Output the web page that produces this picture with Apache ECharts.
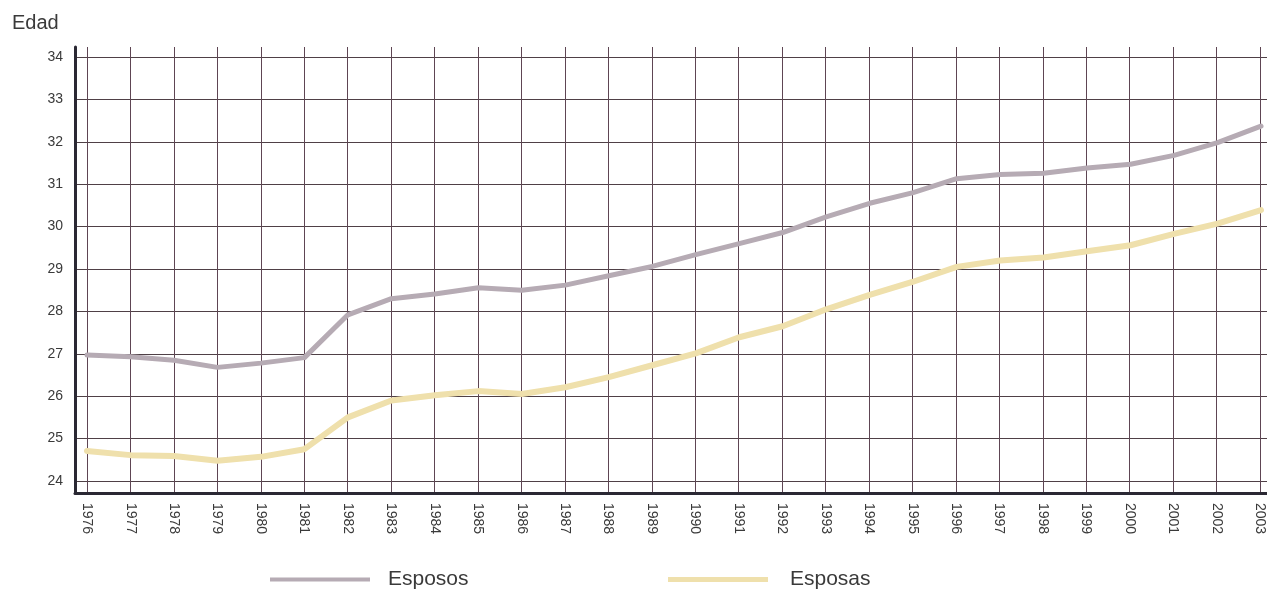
<!DOCTYPE html>
<html>
<head>
<meta charset="utf-8">
<script src="https://cdn.jsdelivr.net/npm/echarts@6/dist/echarts.min.js"></script>
<style>
html,body{margin:0;padding:0;background:#ffffff;}
#chart{width:1267px;height:592px;}
</style>
</head>
<body>
<div id="chart"></div>
<script>
const years = ['1976','1977','1978','1979','1980','1981','1982','1983','1984','1985','1986','1987','1988','1989','1990','1991','1992','1993','1994','1995','1996','1997','1998','1999','2000','2001','2002','2003'];
const esposos = [26.97, 26.93, 26.85, 26.68, 26.78, 26.91, 27.92, 28.3, 28.41, 28.56, 28.5, 28.62, 28.84, 29.06, 29.34, 29.6, 29.86, 30.23, 30.55, 30.8, 31.13, 31.23, 31.26, 31.38, 31.47, 31.68, 31.98, 32.37];
const esposas = [24.71, 24.61, 24.59, 24.48, 24.57, 24.75, 25.5, 25.9, 26.02, 26.12, 26.05, 26.21, 26.45, 26.73, 27.01, 27.39, 27.65, 28.05, 28.39, 28.7, 29.05, 29.2, 29.27, 29.42, 29.56, 29.83, 30.07, 30.39];
const yMin = 24, yMax = 34, yStep = 1;

const font = '"Liberation Sans", Arial, sans-serif';
const txt = '#3a3a3a';
const chart = echarts.init(document.getElementById('chart'));
chart.setOption({
  animation: false,
  backgroundColor: '#ffffff',
  title: { text: 'Edad', left: 7, top: 8, textStyle: { fontFamily: font, fontSize: 20, fontWeight: 'normal', color: txt } },
  legend: [
    { left: 265, top: 564, data: ['Esposos'], icon: 'rect', itemWidth: 100, itemHeight: 4,
      textStyle: { fontFamily: font, fontSize: 21, color: txt, padding: [0,0,0,13] } },
    { left: 663, top: 564, data: ['Esposas'], icon: 'rect', itemWidth: 100, itemHeight: 5,
      textStyle: { fontFamily: font, fontSize: 21, color: txt, padding: [0,0,0,17] } }
  ],
  grid: [
    { left: 75, right: 0, top: 47, bottom: 99 },
    { left: 87, right: 6, top: 47, bottom: 99 },
    { left: 75, right: 0, top: 57, bottom: 111 },
    { left: 87, right: 6, top: 57, bottom: 111 }
  ],
  xAxis: [
    { gridIndex: 0, type: 'value', min: 0, max: 1, axisLine: { show: true, lineStyle: { color: '#2a2833', width: 3 } },
      axisTick: { show: false }, axisLabel: { show: false }, splitLine: { show: false } },
    { gridIndex: 1, type: 'category', data: years, boundaryGap: false,
      axisLine: { show: false }, axisTick: { show: false },
      axisLabel: { interval: 0, rotate: -90, margin: 10, fontFamily: font, fontSize: 14, color: txt },
      splitLine: { show: true, interval: 0, lineStyle: { color: '#5e4553', width: 1 } } },
    { gridIndex: 2, type: 'value', min: 0, max: 1, show: false },
    { gridIndex: 3, type: 'category', data: years, boundaryGap: false, show: false }
  ],
  yAxis: [
    { gridIndex: 0, type: 'value', min: 0, max: 1, axisLine: { show: true, lineStyle: { color: '#2a2833', width: 3 } },
      axisTick: { show: false }, axisLabel: { show: false }, splitLine: { show: false } },
    { gridIndex: 1, type: 'value', min: 0, max: 1, show: false },
    { gridIndex: 2, type: 'value', min: yMin, max: yMax, interval: yStep,
      axisLine: { show: false }, axisTick: { show: false },
      axisLabel: { margin: 12, fontFamily: font, fontSize: 14, color: txt },
      splitLine: { show: true, lineStyle: { color: '#4f4046', width: 1 } } },
    { gridIndex: 3, type: 'value', min: yMin, max: yMax, show: false }
  ],
  series: [
    { name: 'Esposos', type: 'line', xAxisIndex: 3, yAxisIndex: 3, data: esposos, showSymbol: false, symbol: 'none',
      itemStyle: { color: '#b6abb4' },
      lineStyle: { color: '#b6abb4', width: 5, join: 'round', cap: 'round' } },
    { name: 'Esposas', type: 'line', xAxisIndex: 3, yAxisIndex: 3, data: esposas, showSymbol: false, symbol: 'none',
      itemStyle: { color: '#efe0ac' },
      lineStyle: { color: '#efe0ac', width: 6, join: 'round', cap: 'round' } }
  ]
});
</script>
</body>
</html>
